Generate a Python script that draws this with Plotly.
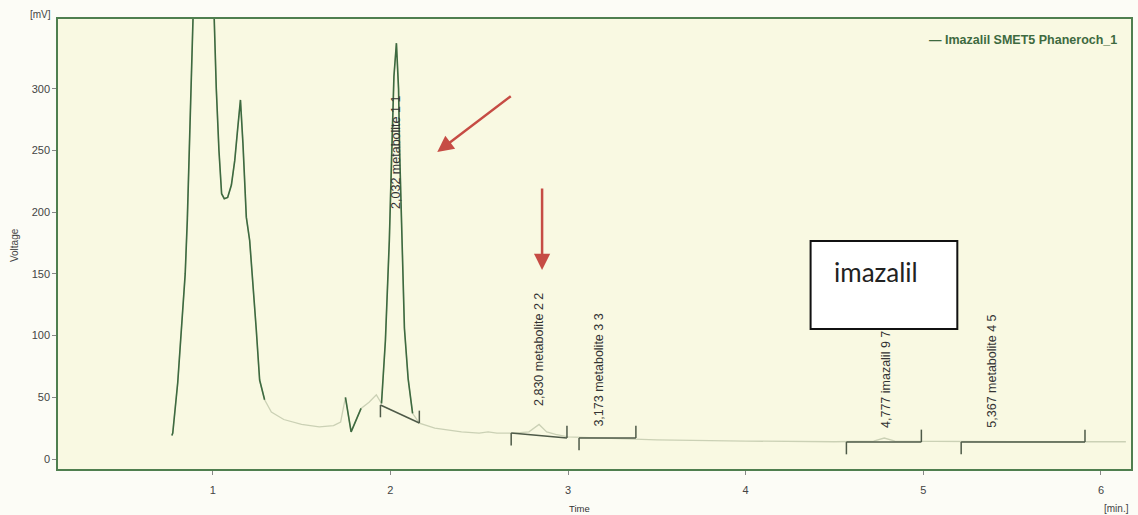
import plotly.graph_objects as go

# ---- data ----
time_min = [0.77, 0.775, 0.803, 0.824, 0.845, 0.857, 0.870, 0.880, 0.90, 0.925, 0.945, 0.965, 0.985,
            1.006, 1.02, 1.035, 1.05, 1.065, 1.084, 1.105, 1.124, 1.14, 1.156, 1.17, 1.18, 1.189,
            1.208, 1.228, 1.245, 1.264, 1.292, 1.33, 1.40, 1.50, 1.60, 1.68, 1.72, 1.747, 1.779,
            1.835, 1.88, 1.921, 1.95, 1.972, 1.994, 2.006, 2.02, 2.034, 2.046, 2.052, 2.067, 2.079,
            2.10, 2.125, 2.163, 2.25, 2.40, 2.50, 2.55, 2.60, 2.70, 2.78, 2.837, 2.88, 2.93, 3.0,
            3.2, 3.5, 4.0, 4.5, 4.72, 4.78, 4.84, 5.2, 5.5, 6.0, 6.14]
voltage_mv = [19, 21, 62, 105, 150, 194, 280, 357, 470, 540, 560, 540, 470,
              357, 300, 250, 215, 211, 212, 222, 242, 267, 291, 256, 225, 196,
              177, 140, 105, 64, 48, 38, 32, 28, 26, 27, 30, 50, 22,
              41, 46, 52, 45, 96, 177, 250, 310, 337, 300, 250, 156, 106,
              65, 37, 29, 25, 22, 21, 22, 21, 21, 22, 28, 22, 20, 18,
              17, 15.5, 14.5, 14, 14.5, 17, 14.5, 14, 14, 14, 14]

# integration baselines: start time/value, end time/value
peak_start_t = [1.944, 2.680, 3.062, 4.567, 5.213]
peak_start_v = [43.8, 21.0, 17.0, 13.8, 13.8]
peak_end_t = [2.163, 2.994, 3.382, 4.989, 5.910]
peak_end_v = [29.2, 17.0, 17.0, 13.8, 13.8]

# peak labels
label_text = ["2,032 metabolite 1 1", "2,830 metabolite 2 2", "3,173 metabolite 3 3",
              "4,777 imazalil 9 7", "5,367 metabolite 4 5"]
label_t = [2.034, 2.837, 3.174, 4.787, 5.382]
label_v = [201, 41, 25, 23.5, 23.5]

y_ticks = [0, 50, 100, 150, 200, 250, 300]
x_ticks = [1, 2, 3, 4, 5, 6]

series_name = "Imazalil SMET5 Phaneroch_1"

# ---- styling ----
dark_ranges = [(0.76, 1.30), (1.74, 1.84), (1.945, 2.13)]
DARK = "#3e6a40"
FAINT = "#cbd1b5"
MARK = "#4e5a48"
RED = "#c64c44"

dark_v = [v if any(a <= t <= b for a, b in dark_ranges) else None
          for t, v in zip(time_min, voltage_mv)]

fig = go.Figure()
fig.add_trace(go.Scatter(x=time_min, y=voltage_mv, mode="lines",
                         line=dict(color=FAINT, width=1.3), showlegend=False,
                         hoverinfo="skip"))
fig.add_trace(go.Scatter(x=time_min, y=dark_v, mode="lines", name=series_name,
                         line=dict(color=DARK, width=1.6), showlegend=False,
                         connectgaps=False))

TICK = 10  # mV
shapes = []
for t1, v1, t2, v2 in zip(peak_start_t, peak_start_v, peak_end_t, peak_end_v):
    for x0, y0, x1, y1 in [(t1, v1, t2, v2), (t1, v1, t1, v1 - TICK), (t2, v2, t2, v2 + TICK)]:
        shapes.append(dict(type="line", xref="x", yref="y", x0=x0, y0=y0, x1=x1, y1=y1,
                           line=dict(color=MARK, width=1.5)))

# imazalil box
W, H = 1138, 515
L, R, T, B = 58, 5, 19, 46
pw, ph = W - L - R, H - T - B
def px(x):
    return (x - L) / pw
def py(y):
    return (H - B - y) / ph

shapes.append(dict(type="rect", xref="paper", yref="paper",
                   x0=px(812), x1=px(959), y0=py(329), y1=py(241),
                   fillcolor="white", line=dict(color="#111", width=2)))

annotations = []
for txt, t, v in zip(label_text, label_t, label_v):
    annotations.append(dict(x=t, y=v, xref="x", yref="y", text=txt, textangle=-90,
                            showarrow=False, xanchor="center", yanchor="bottom",
                            font=dict(family="Liberation Sans, Arial", size=12.5, color="#333")))

annotations += [
    dict(x=px(833), y=py(272), xref="paper", yref="paper", text="imazalil", showarrow=False,
         xanchor="left", yanchor="middle", font=dict(family="Lato", size=26, color="#222")),
    dict(x=px(1121), y=py(40), xref="paper", yref="paper", text="<b>— " + series_name + "</b>",
         showarrow=False, xanchor="right", yanchor="middle",
         font=dict(family="Liberation Sans, Arial", size=12.5, color="#3e6a40")),
    dict(x=px(40), y=py(14), xref="paper", yref="paper", text="[mV]", showarrow=False,
         xanchor="center", yanchor="middle", font=dict(family="Liberation Sans, Arial", size=10, color="#444")),
    dict(x=px(14), y=py(245), xref="paper", yref="paper", text="Voltage", showarrow=False,
         textangle=-90, xanchor="center", yanchor="middle",
         font=dict(family="Liberation Sans, Arial", size=10, color="#444")),
    dict(x=px(580), y=py(508), xref="paper", yref="paper", text="Time", showarrow=False,
         xanchor="center", yanchor="middle", font=dict(family="Liberation Sans, Arial", size=9.5, color="#333")),
    dict(x=px(1118), y=py(509), xref="paper", yref="paper", text="[min.]", showarrow=False,
         xanchor="center", yanchor="middle", font=dict(family="Liberation Sans, Arial", size=10, color="#444")),
    # red arrows
    dict(x=2.264, y=248.8, xref="x", yref="y", ax=75, ay=-57, text="", showarrow=True,
         arrowhead=2, arrowsize=1.3, arrowwidth=2.5, arrowcolor=RED),
    dict(x=2.854, y=153.2, xref="x", yref="y", ax=0, ay=-83, text="", showarrow=True,
         arrowhead=2, arrowsize=1.3, arrowwidth=2.5, arrowcolor=RED),
]

axis_common = dict(showline=True, mirror=True, linecolor="#4f7f4f", linewidth=1.5,
                   showgrid=False, zeroline=False, ticks="outside", ticklen=4,
                   tickcolor="#888", tickfont=dict(family="Liberation Sans, Arial", size=11, color="#444"))

fig.update_layout(
    width=W, height=H,
    margin=dict(l=L, r=R, t=T, b=B),
    paper_bgcolor="#fcfcf6",
    plot_bgcolor="#f9f9e2",
    shapes=shapes,
    annotations=annotations,
    xaxis=dict(range=[0.129, 6.169], tickvals=x_ticks, ticklabelstandoff=6, **axis_common),
    yaxis=dict(range=[-8.1, 356.6], tickvals=y_ticks, **axis_common),
)

fig.write_html("out.html")
